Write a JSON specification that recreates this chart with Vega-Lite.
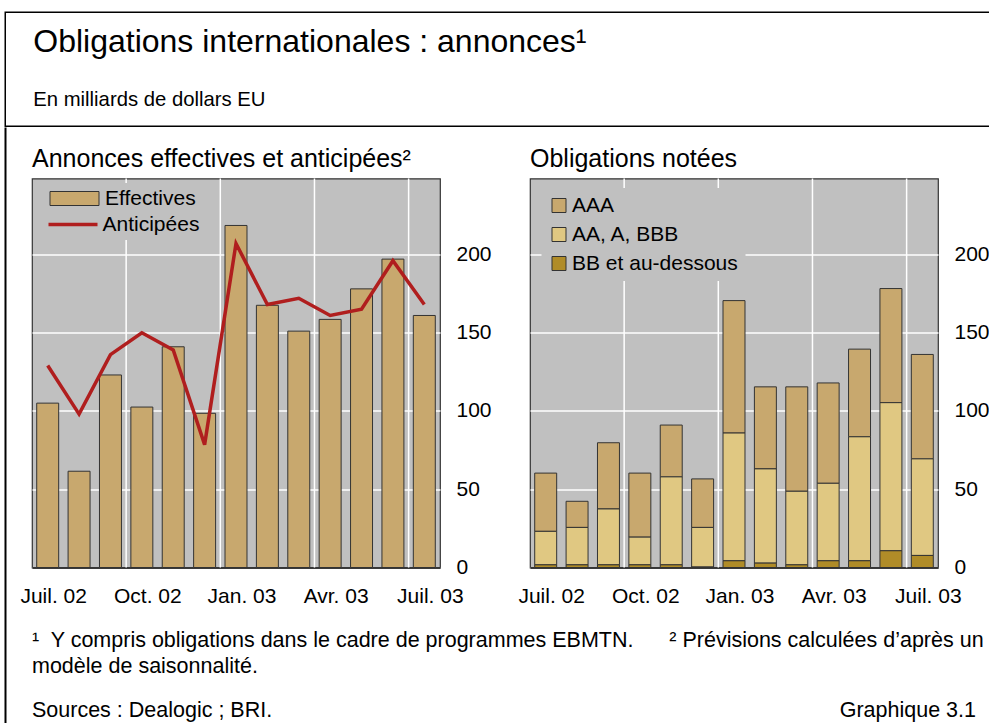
{
  "$schema": "https://vega.github.io/schema/vega-lite/v6.json",
  "padding": {"left": 4.25, "top": 11.25, "right": 0, "bottom": 0},
  "background": "white",
  "config": {
    "font": "Liberation Sans",
    "view": {"stroke": null},
    "title": {"font": "Liberation Sans", "color": "black", "fontWeight": "normal", "anchor": "start", "subtitleFont": "Liberation Sans", "subtitleColor": "black"},
    "axis": {"labelFont": "Liberation Sans", "labelColor": "black", "labelFontSize": 21, "tickSize": 0},
    "legend": {"labelFont": "Liberation Sans", "labelColor": "black", "labelFontSize": 21, "labelLimit": 300}
  },
  "spacing": 0,
  "vconcat": [
    {
      "width": 990,
      "height": 114,
      "view": {"stroke": "black", "strokeWidth": 1.5, "fill": null},
      "data": {"values": []},
      "mark": {"type": "text"},
      "encoding": {"text": {"value": ""}},
      "title": {
        "text": "Obligations internationales : annonces¹",
        "subtitle": "En milliards de dollars EU",
        "fontSize": 32,
        "subtitleFontSize": 20.3,
        "subtitlePadding": 31,
        "offset": -99,
        "dx": 28,
        "anchor": "start",
        "frame": "group"
      }
    },
    {
      "spacing": 11.75,
      "hconcat": [
        {
          "width": 0.5,
          "height": 620,
          "view": {"stroke": "black", "strokeWidth": 1.5, "fill": null},
          "data": {"values": []},
          "mark": {"type": "text"},
          "encoding": {"text": {"value": ""}}
        },
        {
          "spacing": 16.25,
          "vconcat": [
            {
              "width": 1,
              "height": 1,
              "view": {"stroke": null},
              "data": {"values": []},
              "mark": {"type": "text"},
              "encoding": {"text": {"value": ""}}
            },
            {
              "spacing": 22,
              "vconcat": [
                {
                  "spacing": 25,
                  "resolve": {"scale": {"color": "independent", "fill": "independent", "stroke": "independent"}, "legend": {"color": "independent", "fill": "independent", "stroke": "independent"}},
                  "hconcat": [
                    {
                      "title": {"text": "Annonces effectives et anticipées²", "fontSize": 25, "anchor": "start", "frame": "group", "offset": -19, "baseline": "bottom"},
                      "width": 408,
                      "height": 389,
                      "view": {"fill": "#c0c0c0", "stroke": "#333333", "strokeWidth": 1.2},
                      "data": {"values": [
                        {"mois": "Juil. 02", "effectives": 105, "anticipees": 129},
                        {"mois": "Août 02", "effectives": 61.5, "anticipees": 98},
                        {"mois": "Sept. 02", "effectives": 123, "anticipees": 136},
                        {"mois": "Oct. 02", "effectives": 102.5, "anticipees": 150},
                        {"mois": "Nov. 02", "effectives": 141, "anticipees": 139},
                        {"mois": "Déc. 02", "effectives": 98.5, "anticipees": 78.5},
                        {"mois": "Jan. 03", "effectives": 218.5, "anticipees": 207},
                        {"mois": "Févr. 03", "effectives": 167.5, "anticipees": 168},
                        {"mois": "Mars 03", "effectives": 151, "anticipees": 172},
                        {"mois": "Avr. 03", "effectives": 158.5, "anticipees": 161},
                        {"mois": "Mai 03", "effectives": 178, "anticipees": 165},
                        {"mois": "Juin 03", "effectives": 197, "anticipees": 196},
                        {"mois": "Juil. 03", "effectives": 161, "anticipees": 168}
                      ]},
                      "layer": [
                        {
                          "transform": [{"filter": {"field": "mois", "oneOf": ["Oct. 02", "Jan. 03", "Avr. 03", "Juil. 03"]}}],
                          "mark": {"type": "rule", "color": "white", "strokeWidth": 1.5},
                          "encoding": {
                            "x": {"field": "mois", "type": "ordinal", "bandPosition": -0.2143,
                              "scale": {"domain": ["Juil. 02", "Août 02", "Sept. 02", "Oct. 02", "Nov. 02", "Déc. 02", "Jan. 03", "Févr. 03", "Mars 03", "Avr. 03", "Mai 03", "Juin 03", "Juil. 03"], "paddingInner": 0.3, "paddingOuter": 0.15},
                              "axis": {"values": ["Juil. 02", "Oct. 02", "Jan. 03", "Avr. 03", "Juil. 03"], "labelAngle": 0, "title": null, "grid": false, "domain": true, "domainColor": "black", "domainWidth": 1.5, "ticks": false, "labelPadding": 18, "labelOffset": 6, "labelFontSize": 21}}
                          }
                        },
                        {
                          "mark": {"type": "bar", "stroke": "#333333", "strokeWidth": 1},
                          "encoding": {
                            "x": {"field": "mois", "type": "ordinal",
                              "scale": {"domain": ["Juil. 02", "Août 02", "Sept. 02", "Oct. 02", "Nov. 02", "Déc. 02", "Jan. 03", "Févr. 03", "Mars 03", "Avr. 03", "Mai 03", "Juin 03", "Juil. 03"], "paddingInner": 0.3, "paddingOuter": 0.15},
                              "axis": {"values": ["Juil. 02", "Oct. 02", "Jan. 03", "Avr. 03", "Juil. 03"], "labelAngle": 0, "title": null, "grid": false, "domain": true, "domainColor": "black", "domainWidth": 1.5, "ticks": false, "labelPadding": 18, "labelOffset": 6, "labelFontSize": 21}},
                            "y": {"field": "effectives", "type": "quantitative", "scale": {"domain": [0, 248.5], "nice": false, "zero": true},
                              "axis": {"orient": "right", "values": [0, 50, 100, 150, 200], "title": null, "grid": true, "gridColor": "white", "gridWidth": 1.5, "domain": false, "ticks": false, "labelPadding": 16, "labelFontSize": 21}},
                            "fill": {"datum": "Effectives", "type": "nominal",
                              "scale": {"domain": ["Effectives"], "range": ["#C8A86E"]},
                              "legend": {
                                "orient": "none", "legendX": 27, "legendY": 4.5, "title": null, "padding": 5, "fillColor": "#c0c0c0",
                                "labelOffset": 20, "symbolSize": 196, "symbolType": "M-3.5,-1H3.5V1H-3.5Z",
                                "symbolStrokeColor": "#333333", "symbolStrokeWidth": 1, "symbolOpacity": 1, "labelFontSize": 21
                              }}
                          }
                        },
                        {
                          "mark": {"type": "line", "strokeWidth": 3.5},
                          "encoding": {
                            "x": {"field": "mois", "type": "ordinal"},
                            "y": {"field": "anticipees", "type": "quantitative"},
                            "stroke": {"datum": "Anticipées", "type": "nominal",
                              "scale": {"domain": ["Anticipées"], "range": ["#B01E1E"]},
                              "legend": {
                                "orient": "none", "legendX": 25.5, "legendY": 30.5, "title": null, "padding": 5, "fillColor": "#c0c0c0",
                                "labelOffset": 19, "symbolSize": 196, "symbolType": "M-3.5,0H3.5",
                                "symbolStrokeWidth": 3.5, "symbolOpacity": 1, "labelFontSize": 21
                              }}
                          }
                        }
                      ]
                    },
                    {
                      "title": {"text": "Obligations notées", "fontSize": 25, "anchor": "start", "frame": "group", "offset": -19, "baseline": "bottom"},
                      "width": 408,
                      "height": 389,
                      "view": {"fill": "#c0c0c0", "stroke": "#333333", "strokeWidth": 1.2},
                      "data": {"values": [
                        {"mois": "Juil. 02", "notation": "AAA", "rang": 3, "montant": 37.2},
                        {"mois": "Juil. 02", "notation": "AA, A, BBB", "rang": 2, "montant": 21.4},
                        {"mois": "Juil. 02", "notation": "BB et au-dessous", "rang": 1, "montant": 1.7},
                        {"mois": "Août 02", "notation": "AAA", "rang": 3, "montant": 16.7},
                        {"mois": "Août 02", "notation": "AA, A, BBB", "rang": 2, "montant": 23.9},
                        {"mois": "Août 02", "notation": "BB et au-dessous", "rang": 1, "montant": 1.7},
                        {"mois": "Sept. 02", "notation": "AAA", "rang": 3, "montant": 42.3},
                        {"mois": "Sept. 02", "notation": "AA, A, BBB", "rang": 2, "montant": 35.7},
                        {"mois": "Sept. 02", "notation": "BB et au-dessous", "rang": 1, "montant": 1.7},
                        {"mois": "Oct. 02", "notation": "AAA", "rang": 3, "montant": 40.9},
                        {"mois": "Oct. 02", "notation": "AA, A, BBB", "rang": 2, "montant": 17.7},
                        {"mois": "Oct. 02", "notation": "BB et au-dessous", "rang": 1, "montant": 1.7},
                        {"mois": "Nov. 02", "notation": "AAA", "rang": 3, "montant": 33.1},
                        {"mois": "Nov. 02", "notation": "AA, A, BBB", "rang": 2, "montant": 56.2},
                        {"mois": "Nov. 02", "notation": "BB et au-dessous", "rang": 1, "montant": 1.7},
                        {"mois": "Déc. 02", "notation": "AAA", "rang": 3, "montant": 31.0},
                        {"mois": "Déc. 02", "notation": "AA, A, BBB", "rang": 2, "montant": 25.3},
                        {"mois": "Déc. 02", "notation": "BB et au-dessous", "rang": 1, "montant": 0.3},
                        {"mois": "Jan. 03", "notation": "AAA", "rang": 3, "montant": 84.6},
                        {"mois": "Jan. 03", "notation": "AA, A, BBB", "rang": 2, "montant": 81.6},
                        {"mois": "Jan. 03", "notation": "BB et au-dessous", "rang": 1, "montant": 4.3},
                        {"mois": "Févr. 03", "notation": "AAA", "rang": 3, "montant": 52.4},
                        {"mois": "Févr. 03", "notation": "AA, A, BBB", "rang": 2, "montant": 60.2},
                        {"mois": "Févr. 03", "notation": "BB et au-dessous", "rang": 1, "montant": 2.8},
                        {"mois": "Mars 03", "notation": "AAA", "rang": 3, "montant": 66.7},
                        {"mois": "Mars 03", "notation": "AA, A, BBB", "rang": 2, "montant": 47.0},
                        {"mois": "Mars 03", "notation": "BB et au-dessous", "rang": 1, "montant": 1.7},
                        {"mois": "Avr. 03", "notation": "AAA", "rang": 3, "montant": 64.1},
                        {"mois": "Avr. 03", "notation": "AA, A, BBB", "rang": 2, "montant": 49.5},
                        {"mois": "Avr. 03", "notation": "BB et au-dessous", "rang": 1, "montant": 4.3},
                        {"mois": "Mai 03", "notation": "AAA", "rang": 3, "montant": 56.0},
                        {"mois": "Mai 03", "notation": "AA, A, BBB", "rang": 2, "montant": 79.2},
                        {"mois": "Mai 03", "notation": "BB et au-dessous", "rang": 1, "montant": 4.3},
                        {"mois": "Juin 03", "notation": "AAA", "rang": 3, "montant": 72.9},
                        {"mois": "Juin 03", "notation": "AA, A, BBB", "rang": 2, "montant": 94.6},
                        {"mois": "Juin 03", "notation": "BB et au-dessous", "rang": 1, "montant": 10.7},
                        {"mois": "Juil. 03", "notation": "AAA", "rang": 3, "montant": 66.7},
                        {"mois": "Juil. 03", "notation": "AA, A, BBB", "rang": 2, "montant": 61.7},
                        {"mois": "Juil. 03", "notation": "BB et au-dessous", "rang": 1, "montant": 7.7}
                      ]},
                      "layer": [
                        {
                          "transform": [{"filter": {"field": "mois", "oneOf": ["Oct. 02", "Jan. 03", "Avr. 03", "Juil. 03"]}}, {"filter": {"field": "notation", "equal": "AAA"}}],
                          "mark": {"type": "rule", "color": "white", "strokeWidth": 1.5},
                          "encoding": {
                            "x": {"field": "mois", "type": "ordinal", "bandPosition": -0.2143,
                              "scale": {"domain": ["Juil. 02", "Août 02", "Sept. 02", "Oct. 02", "Nov. 02", "Déc. 02", "Jan. 03", "Févr. 03", "Mars 03", "Avr. 03", "Mai 03", "Juin 03", "Juil. 03"], "paddingInner": 0.3, "paddingOuter": 0.15},
                              "axis": {"values": ["Juil. 02", "Oct. 02", "Jan. 03", "Avr. 03", "Juil. 03"], "labelAngle": 0, "title": null, "grid": false, "domain": true, "domainColor": "black", "domainWidth": 1.5, "ticks": false, "labelPadding": 18, "labelOffset": 6, "labelFontSize": 21}}
                          }
                        },
                        {
                          "mark": {"type": "bar", "stroke": "#333333", "strokeWidth": 1},
                          "encoding": {
                            "x": {"field": "mois", "type": "ordinal",
                              "scale": {"domain": ["Juil. 02", "Août 02", "Sept. 02", "Oct. 02", "Nov. 02", "Déc. 02", "Jan. 03", "Févr. 03", "Mars 03", "Avr. 03", "Mai 03", "Juin 03", "Juil. 03"], "paddingInner": 0.3, "paddingOuter": 0.15},
                              "axis": {"values": ["Juil. 02", "Oct. 02", "Jan. 03", "Avr. 03", "Juil. 03"], "labelAngle": 0, "title": null, "grid": false, "domain": true, "domainColor": "black", "domainWidth": 1.5, "ticks": false, "labelPadding": 18, "labelOffset": 6, "labelFontSize": 21}},
                            "y": {"field": "montant", "type": "quantitative", "stack": "zero", "scale": {"domain": [0, 248.5], "nice": false, "zero": true},
                              "axis": {"orient": "right", "values": [0, 50, 100, 150, 200], "title": null, "grid": true, "gridColor": "white", "gridWidth": 1.5, "domain": false, "ticks": false, "labelPadding": 16, "labelFontSize": 21}},
                            "order": {"field": "rang", "type": "quantitative", "sort": "ascending"},
                            "color": {"field": "notation", "type": "nominal", "sort": ["AAA", "AA, A, BBB", "BB et au-dessous"],
                              "scale": {"domain": ["AAA", "AA, A, BBB", "BB et au-dessous"], "range": ["#C8A86E", "#E0C882", "#B08C28"]},
                              "legend": {
                                "orient": "none", "legendX": 11.5, "legendY": 9.5, "title": null, "padding": 7, "fillColor": "#c0c0c0",
                                "rowPadding": 7, "labelOffset": 2.5, "symbolSize": 196, "symbolType": "square",
                                "symbolStrokeColor": "#333333", "symbolStrokeWidth": 1, "symbolOpacity": 1, "labelFontSize": 21
                              }}
                          }
                        }
                      ]
                    }
                  ]
                },
                {
                  "spacing": 21,
                  "vconcat": [
                    {
                      "width": 940,
                      "height": 1,
                      "view": {"stroke": null},
                      "data": {"values": []},
                      "mark": {"type": "text"},
                      "encoding": {"text": {"value": ""}},
                      "title": {
                        "text": ["¹\u00a0 Y compris obligations dans le cadre de programmes EBMTN.\u00a0\u00a0\u00a0\u00a0\u00a0\u00a0² Prévisions calculées d’après un", "modèle de saisonnalité."],
                        "fontSize": 21.5,
                        "lineHeight": 26,
                        "anchor": "start",
                        "frame": "group",
                        "offset": 0,
                        "baseline": "top"
                      }
                    },
                    {
                      "spacing": 0,
                      "hconcat": [
                        {
                          "width": 486,
                          "height": 1,
                          "view": {"stroke": null},
                          "data": {"values": []},
                          "mark": {"type": "text"},
                          "encoding": {"text": {"value": ""}},
                          "title": {"text": "Sources : Dealogic ; BRI.", "fontSize": 21.5, "anchor": "start", "frame": "group", "offset": 0, "baseline": "top"}
                        },
                        {
                          "width": 458,
                          "height": 1,
                          "view": {"stroke": null},
                          "data": {"values": []},
                          "mark": {"type": "text"},
                          "encoding": {"text": {"value": ""}},
                          "title": {"text": "Graphique 3.1", "fontSize": 21.5, "anchor": "end", "frame": "group", "offset": 0, "baseline": "top"}
                        }
                      ]
                    }
                  ]
                }
              ]
            }
          ]
        }
      ]
    }
  ]
}
